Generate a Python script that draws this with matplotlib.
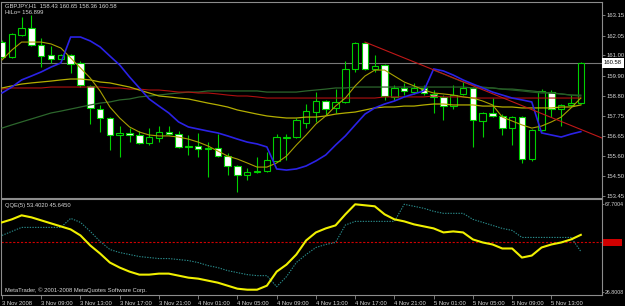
import matplotlib
matplotlib.use("Agg")
import numpy as np
import matplotlib.pyplot as plt
from matplotlib.patches import Rectangle
from matplotlib.transforms import blended_transform_factory

plt.rcParams['font.family'] = ['Liberation Sans', 'DejaVu Sans']

# GBPJPY H1, bars from 3 Nov 2008 05:00 to 5 Nov 16:00
opens = [161.70, 160.90, 162.08, 162.45, 161.54, 161.01, 160.79, 161.01, 160.58, 159.34,
         158.11, 157.63, 156.72, 156.83, 156.72, 156.29, 156.56, 156.88, 156.77, 156.08,
         156.13, 155.97, 156.02, 155.59, 155.06, 154.58, 154.74, 154.79, 155.33, 156.56,
         156.61, 157.36, 157.95, 158.54, 158.17, 158.49, 160.26, 161.65, 160.26, 160.47,
         158.76, 159.24, 159.02, 159.24, 158.92, 158.76, 158.27, 158.92, 159.24, 157.47,
         157.90, 157.74, 157.09, 157.68, 155.43, 156.99, 159.02, 158.11, 158.33, 158.43]
highs = [161.81, 162.19, 163.04, 163.15, 161.92, 161.49, 161.06, 161.06, 160.68, 159.40,
         158.33, 157.68, 157.20, 157.09, 156.93, 157.09, 157.20, 157.20, 156.93, 156.72,
         156.83, 156.34, 156.77, 155.75, 155.11, 154.95, 155.54, 155.81, 156.77, 156.77,
         157.63, 158.38, 159.02, 158.60, 159.18, 160.68, 161.70, 161.70, 161.01, 160.52,
         159.40, 159.51, 159.51, 159.40, 159.13, 158.86, 159.40, 159.56, 159.29, 157.95,
         158.70, 157.84, 157.74, 157.74, 157.04, 159.18, 159.13, 158.38, 158.86, 160.65]
lows = [160.85, 160.85, 162.02, 161.49, 160.36, 160.58, 160.74, 160.04, 159.29, 157.31,
        156.88, 155.92, 155.54, 156.34, 156.24, 156.18, 156.34, 156.72, 156.02, 155.65,
        155.54, 154.47, 155.54, 154.58, 153.66, 154.31, 154.68, 154.74, 155.27, 155.38,
        156.56, 157.09, 157.42, 157.79, 157.90, 158.43, 160.10, 160.20, 160.10, 158.60,
        158.60, 158.86, 158.92, 158.86, 157.90, 157.52, 158.11, 158.86, 156.08, 156.61,
        157.68, 156.72, 156.18, 155.22, 155.33, 156.93, 157.68, 157.20, 158.27, 158.36]
closes = [160.90, 162.13, 162.45, 161.54, 160.95, 160.79, 161.01, 160.52, 159.40, 158.17,
          157.63, 156.72, 156.83, 156.72, 156.29, 156.61, 156.88, 156.77, 156.08, 156.13,
          155.97, 156.02, 155.59, 155.06, 154.58, 154.74, 154.79, 155.38, 156.61, 156.61,
          157.52, 158.00, 158.54, 158.11, 158.49, 160.26, 161.65, 160.26, 160.42, 158.81,
          159.24, 159.08, 159.24, 158.97, 158.76, 158.27, 158.86, 159.24, 157.52, 157.90,
          157.74, 157.09, 157.68, 155.43, 156.99, 159.08, 158.11, 158.33, 158.43, 160.58]

# indicator lines on the price chart
hilo = [158.97, 159.29, 159.67, 159.88, 160.10, 160.36, 160.58, 161.97, 161.97, 161.76,
        161.44, 160.95, 160.47, 159.83, 159.24, 158.65, 158.27, 157.90, 157.42, 157.15,
        157.04, 156.93, 156.83, 156.67, 156.50, 156.34, 156.24, 156.08, 154.90, 154.84,
        154.90, 155.06, 155.33, 155.65, 156.18, 156.67, 157.26, 157.84, 158.17, 158.38,
        158.54, 158.76, 158.92, 159.08, 160.26, 160.15, 159.93, 159.67, 159.45, 159.24,
        159.02, 158.86, 158.70, 158.60, 158.49, 156.83, 156.72, 156.61, 156.77, 156.90]
hilo2_start = 44
hilo2 = [160.20, 159.99, 159.77, 159.56, 159.40, 159.29, 159.24, 159.18, 159.13, 159.08,
         159.02, 158.97, 158.97, 158.92, 158.86, 158.86]
ma_fast = [160.74, 161.27, 161.70, 161.70, 161.70, 161.60, 161.38, 160.85, 160.31, 159.77,
           159.08, 158.22, 157.63, 157.15, 156.88, 156.72, 156.67, 156.67, 156.61, 156.50,
           156.34, 156.13, 155.86, 155.59, 155.43, 155.22, 155.00, 155.00, 155.22, 155.59,
           156.18, 156.72, 157.31, 157.74, 158.27, 158.70, 159.35, 159.88, 160.20, 160.20,
           159.88, 159.56, 159.35, 159.13, 158.97, 158.92, 158.86, 158.76, 158.70, 158.54,
           158.33, 157.68, 157.47, 157.26, 157.09, 157.20, 157.42, 157.68, 158.17, 158.70]
ma_mid = [159.24, 159.35, 159.45, 159.51, 159.56, 159.61, 159.67, 159.72, 159.72, 159.67,
          159.56, 159.51, 159.40, 159.29, 159.13, 158.97, 158.81, 158.76, 158.70, 158.65,
          158.54, 158.43, 158.33, 158.22, 158.06, 157.95, 157.84, 157.74, 157.68, 157.63,
          157.63, 157.68, 157.68, 157.74, 157.84, 157.90, 157.95, 158.06, 158.17, 158.22,
          158.22, 158.27, 158.27, 158.33, 158.38, 158.38, 158.33, 158.33, 158.33, 158.27,
          158.27, 158.22, 158.22, 158.17, 158.17, 158.17, 158.17, 158.22, 158.22, 158.33]
ma_slow = [157.09, 157.26, 157.42, 157.58, 157.74, 157.90, 158.00, 158.11, 158.22, 158.33,
           158.43, 158.49, 158.60, 158.65, 158.76, 158.81, 158.86, 158.92, 158.97, 159.02,
           159.02, 159.08, 159.08, 159.08, 159.08, 159.08, 159.08, 159.02, 159.02, 159.02,
           159.02, 159.08, 159.13, 159.18, 159.24, 159.24, 159.29, 159.29, 159.29, 159.29,
           159.29, 159.29, 159.29, 159.29, 159.29, 159.29, 159.29, 159.29, 159.24, 159.24,
           159.24, 159.18, 159.18, 159.13, 159.08, 159.02, 158.97, 158.92, 158.86, 158.81]
ma_red = [159.18, 159.24, 159.24, 159.24, 159.24, 159.29, 159.29, 159.29, 159.29, 159.29,
          159.29, 159.24, 159.24, 159.18, 159.18, 159.13, 159.13, 159.08, 159.02, 159.02,
          158.97, 158.97, 158.92, 158.86, 158.81, 158.81, 158.76, 158.70, 158.70, 158.70,
          158.70, 158.70, 158.70, 158.70, 158.70, 158.70, 158.70, 158.70, 158.70, 158.76,
          158.76, 158.76, 158.76, 158.76, 158.81, 158.76, 158.76, 158.76, 158.70, 158.70,
          158.70, 158.70, 158.70, 158.70, 158.70, 158.70, 158.70, 158.70, 158.70, 158.70]
trend_x = [37, 61.2]
trend_y = [161.70, 156.55]
bid = 160.58

price_ticks = [163.15, 162.05, 161.00, 159.90, 158.80, 157.75, 156.65, 155.60, 154.50, 153.45]

# QQE(5)
qqe_rsi = [59.24, 60.65, 62.53, 61.59, 60.18, 58.77, 57.36, 55.95, 53.13, 48.43,
           44.66, 40.43, 38.08, 36.20, 34.79, 34.79, 35.26, 35.26, 34.32, 33.38,
           32.91, 31.97, 31.03, 29.62, 28.21, 27.74, 27.74, 29.62, 36.20, 39.49,
           44.20, 50.78, 54.54, 56.42, 57.83, 63.00, 67.70, 67.23, 66.76, 63.00,
           60.65, 59.71, 58.30, 57.36, 56.42, 54.54, 55.01, 54.54, 51.25, 49.84,
           48.90, 47.02, 47.02, 42.78, 43.72, 47.49, 48.90, 49.84, 51.25, 53.40]
qqe_trail = [53.13, 55.01, 56.89, 56.89, 56.89, 56.89, 56.89, 61.12, 59.24, 55.01,
             50.31, 46.54, 45.13, 44.20, 43.25, 42.78, 42.31, 42.31, 41.84, 41.37,
             40.43, 39.02, 38.08, 36.67, 35.73, 34.79, 34.32, 34.32, 29.15, 33.85,
             40.43, 44.20, 47.49, 48.90, 49.84, 58.00, 59.71, 59.71, 59.71, 59.71,
             59.71, 67.70, 66.76, 65.82, 64.41, 63.47, 63.47, 63.47, 60.65, 59.24,
             57.83, 56.42, 55.48, 52.19, 52.19, 52.19, 52.19, 52.19, 52.19, 45.65]
qqe_level = 50
qqe_ticks = [67.7004, 26.8008]

time_ticks = list(range(0, 60, 4))
time_labels = ["3 Nov 2008", "3 Nov 09:00", "3 Nov 13:00", "3 Nov 17:00", "3 Nov 21:00",
               "4 Nov 01:00", "4 Nov 05:00", "4 Nov 09:00", "4 Nov 13:00", "4 Nov 17:00",
               "4 Nov 21:00", "5 Nov 01:00", "5 Nov 05:00", "5 Nov 09:00", "5 Nov 13:00"]

GREEN = "#00d000"
FRAME = "#8c8c8c"
TXT = "#d8d8d8"
FS = 4.2

W, H = 625, 306
fig = plt.figure(figsize=(W / 100, H / 100), dpi=100, facecolor="black")


def px_box(x0, y0, x1, y1):
    return [x0 / W, 1 - y1 / H, (x1 - x0) / W, (y1 - y0) / H]


ax = fig.add_axes(px_box(1.5, 1.5, 602, 197.5))
ax2 = fig.add_axes(px_box(1.5, 198.5, 602, 295))

bars = np.arange(len(opens))

# candles
for i in bars:
    o, h, l, c = opens[i], highs[i], lows[i], closes[i]
    ax.vlines(i, l, h, color=GREEN, lw=0.8, zorder=2)
    bottom = min(o, c)
    height = max(abs(c - o), 0.03)
    face = "white" if c < o else "black"
    ax.add_patch(Rectangle((i - 0.33, bottom), 0.66, height, facecolor=face,
                           edgecolor=GREEN, lw=0.8, zorder=3))

ax.axhline(bid, color="#787878", lw=0.8, zorder=1)
ax.plot(bars, ma_slow, color="#2c662c", lw=0.9, zorder=4)
ax.plot(bars[hilo2_start:], hilo2, color="#245a24", lw=0.9, zorder=4)
ax.plot(bars, ma_red, color="#b01010", lw=0.8, zorder=4)
ax.plot(bars, ma_mid, color="#b4ae00", lw=0.9, zorder=4)
ax.plot(bars, ma_fast, color="#a8a000", lw=0.8, zorder=5)
ax.plot(bars, hilo, color="#2b22e6", lw=1.2, zorder=5)
ax.plot(trend_x, trend_y, color="#c01818", lw=0.8, zorder=5, clip_on=True)

ax.set_xlim(-0.05, 61.16)
ax.set_ylim(153.37, 163.874)
ax.set_facecolor("black")
ax.set_xticks([])
ax.yaxis.tick_right()
ax.set_yticks(price_ticks)
ax.set_yticklabels([f"{v:.2f}" for v in price_ticks])
ax.tick_params(axis="y", colors=FRAME, labelcolor=TXT, labelsize=FS, length=2, width=0.6, pad=1.5)

tr = blended_transform_factory(ax.transAxes, ax.transData)
ax.text(1.003, bid, f"{bid:.2f}", transform=tr, ha="left", va="center", fontsize=FS,
        color="black", bbox=dict(boxstyle="square,pad=0.35", fc="white", ec="none"), zorder=10)

# QQE panel
ax2.plot(bars, qqe_trail, color="#2a8c8c", lw=0.8, ls=(0, (1.2, 1.2)), zorder=3)
ax2.plot(bars, qqe_rsi, color="#f0f000", lw=1.5, zorder=4)
ax2.axhline(qqe_level, color="#d00000", lw=0.8, ls=(0, (2, 1.5)), zorder=2)
ax2.set_xlim(-0.05, 61.16)
ax2.set_ylim(25.26, 70.41)
ax2.set_facecolor("black")
ax2.yaxis.tick_right()
ax2.set_yticks(qqe_ticks)
ax2.set_yticklabels(["67.7004", "26.8008"])
ax2.tick_params(axis="y", colors=FRAME, labelcolor=TXT, labelsize=3.8, length=1.5, width=0.6, pad=0.8)
ax2.set_xticks(time_ticks)
ax2.set_xticklabels(time_labels)
ax2.tick_params(axis="x", colors=FRAME, labelcolor=TXT, labelsize=FS, length=3, width=0.6, pad=1)
for lbl in ax2.get_xticklabels():
    lbl.set_ha("left")

tr2 = blended_transform_factory(ax2.transAxes, ax2.transData)
ax2.add_patch(Rectangle((1.002, qqe_level - 1.6), 0.032, 3.2, transform=tr2,
                        facecolor="#d00000", edgecolor="none", clip_on=False))

for a in (ax, ax2):
    for s in a.spines.values():
        s.set_color(FRAME)
        s.set_linewidth(0.8)

fig.text(5 / W, 1 - 6 / H, "GBPJPY,H1  158.43 160.65 158.36 160.58", fontsize=FS,
         color=TXT, va="center", ha="left")
fig.text(5 / W, 1 - 13 / H, "HiLo= 156.899", fontsize=FS, color=TXT, va="center", ha="left")
fig.text(5 / W, 1 - 205 / H, "QQE(5) 53.4020 45.6450", fontsize=FS, color=TXT,
         va="center", ha="left")
fig.text(5 / W, 1 - 290 / H, "MetaTrader, \u00a9 2001-2008 MetaQuotes Software Corp.",
         fontsize=FS, color=TXT, va="center", ha="left")

fig.savefig("out.png", dpi=100, facecolor="black")
